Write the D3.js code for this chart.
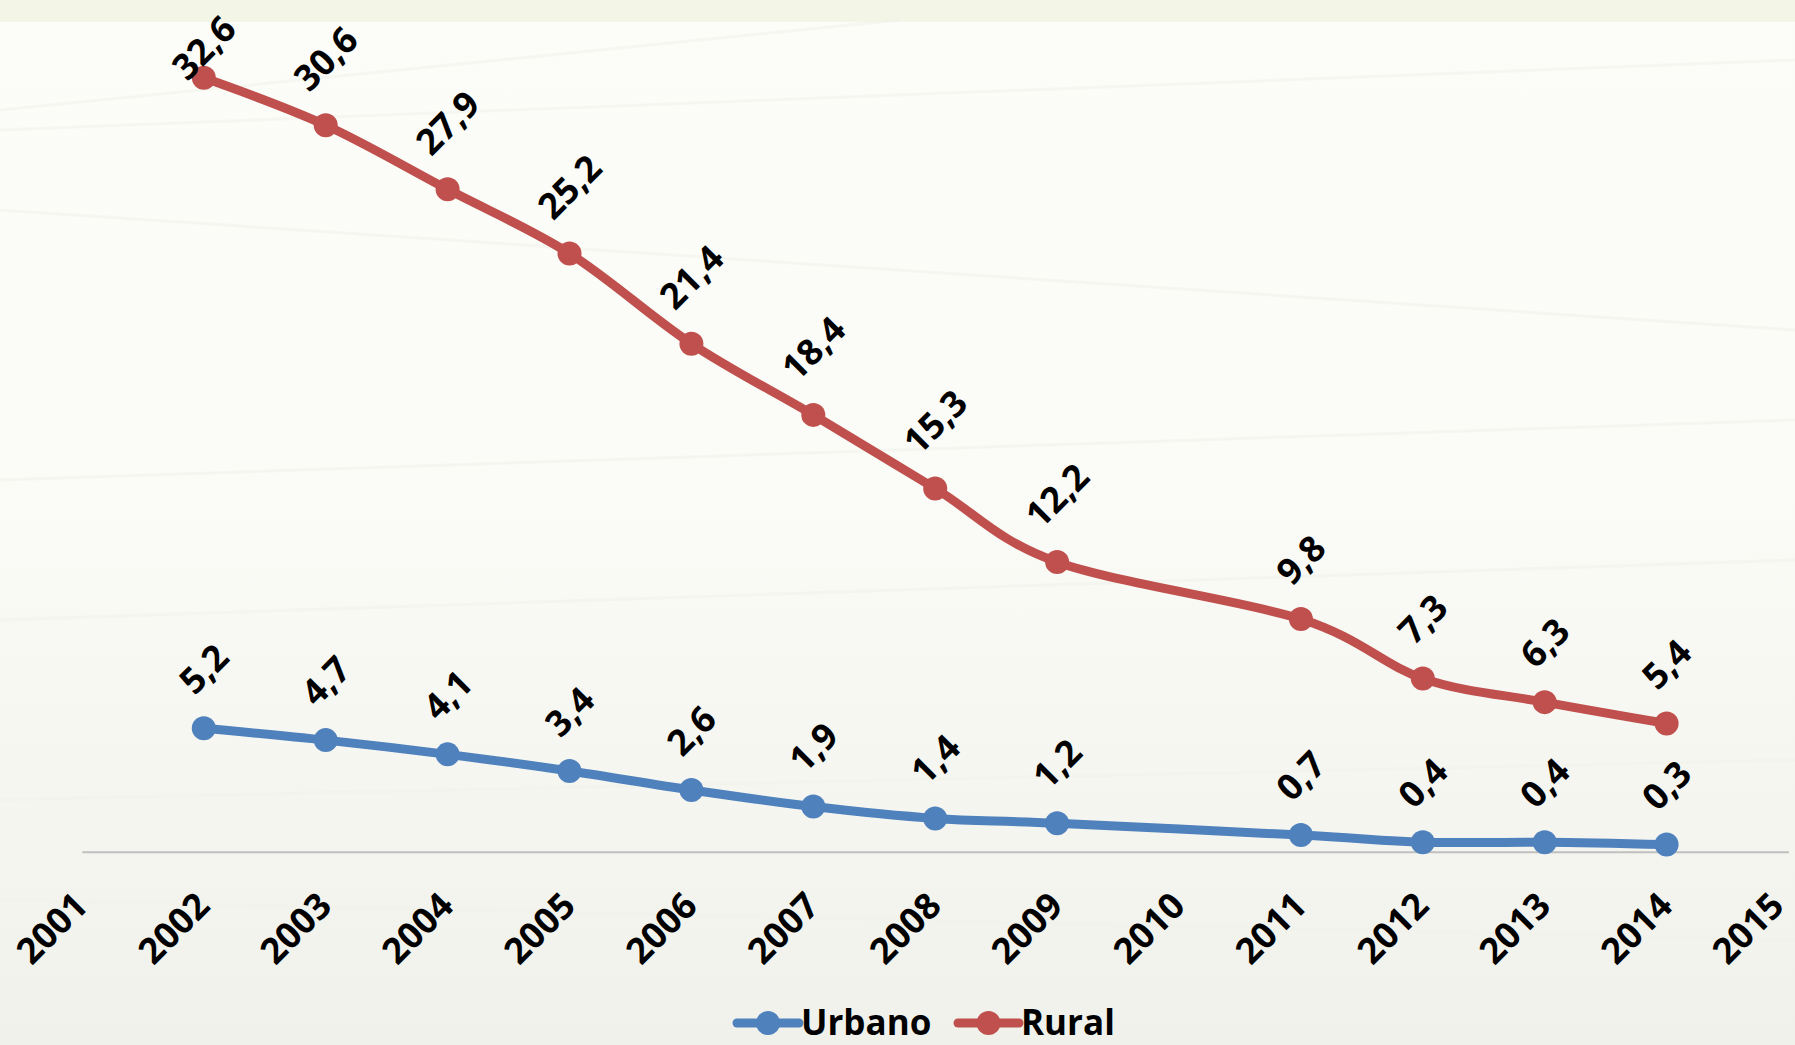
<!DOCTYPE html>
<html>
<head>
<meta charset="utf-8">
<script src="https://cdn.jsdelivr.net/npm/d3@7"></script>
<style>
  html, body { margin: 0; padding: 0; background: #fafaf5; }
  svg { display: block; }
  text { font-family: "Open Sans", "Noto Sans", sans-serif; font-weight: 700; fill: #000; }
</style>
</head>
<body>
<svg id="chart" width="1795" height="1045"></svg>
<script>
// ---- data ----
const axisYears = ["2001","2002","2003","2004","2005","2006","2007","2008","2009","2010","2011","2012","2013","2014","2015"];
const dataYears = ["2002","2003","2004","2005","2006","2007","2008","2009","2011","2012","2013","2014"];
const urbano = [5.2, 4.7, 4.1, 3.4, 2.6, 1.9, 1.4, 1.2, 0.7, 0.4, 0.4, 0.3];
const rural  = [32.6, 30.6, 27.9, 25.2, 21.4, 18.4, 15.3, 12.2, 9.8, 7.3, 6.3, 5.4];
const seriesNames = ["Urbano", "Rural"];
const seriesColors = ["#4F81BD", "#C0504D"];

const W = 1795, H = 1045;
const svg = d3.select("#chart");

// ---- background ----
const defs = svg.append("defs");
const bg = defs.append("linearGradient").attr("id", "bg").attr("x1", 0).attr("y1", 0).attr("x2", 0).attr("y2", 1);
bg.append("stop").attr("offset", "0%").attr("stop-color", "#fcfcf8");
bg.append("stop").attr("offset", "45%").attr("stop-color", "#fbfbf7");
bg.append("stop").attr("offset", "100%").attr("stop-color", "#f1f1ec");
svg.append("rect").attr("width", W).attr("height", H).attr("fill", "url(#bg)");
svg.append("rect").attr("width", W).attr("height", 22).attr("fill", "#f3f5e6");
// faint texture streaks
const streaks = [[0,130,1795,60],[0,210,1795,330],[0,480,1795,420],[0,620,1795,560],[0,800,1795,760],[0,110,900,20],[0,900,1795,940]];
svg.append("g").selectAll("line").data(streaks).join("line")
  .attr("x1", d => d[0]).attr("y1", d => d[1]).attr("x2", d => d[2]).attr("y2", d => d[3])
  .attr("stroke", "#f2f2ea").attr("stroke-width", 3).attr("opacity", 0.45);

// ---- scales ----
const x = d3.scalePoint().domain(axisYears).range([81.9, 1788.5]);
const y = d3.scaleLinear().domain([0, 35]).range([851.7, 20.8]);

// axis line
const xAxis = d3.axisBottom(x).tickSize(0).tickFormat("");
const axG = svg.append("g").attr("transform", `translate(0,${y(0)})`).call(xAxis);
axG.select(".domain").attr("stroke", "#bfbfbf").attr("stroke-width", 2);

// axis labels
svg.append("g").selectAll("text").data(axisYears).join("text")
  .attr("text-anchor", "end")
  .attr("font-size", 36)
  .attr("transform", d => `translate(${Math.min(x(d) + 8, 1786)},908) rotate(-45)`)
  .text(d => d);

// ---- lines ----
const line = d3.line().x(d => x(d.year)).y(d => y(d.v)).curve(d3.curveCatmullRom.alpha(0));
const all = [urbano, rural].map((vals, i) => ({
  name: seriesNames[i], color: seriesColors[i],
  pts: dataYears.map((yr, j) => ({ year: yr, v: vals[j] }))
}));

const g = svg.append("g");
all.forEach(s => {
  g.append("path").datum(s.pts).attr("d", line)
    .attr("fill", "none").attr("stroke", s.color).attr("stroke-width", 9)
    .attr("stroke-linejoin", "round").attr("stroke-linecap", "round");
  g.selectAll(null).data(s.pts).join("circle")
    .attr("cx", d => x(d.year)).attr("cy", d => y(d.v)).attr("r", 12).attr("fill", s.color);
});

// ---- data labels ----
const fmt = v => d3.format(".1f")(v).replace(".", ",");
const fs = 36;
all.forEach(s => {
  s.pts.forEach(p => {
    const t = svg.append("text").attr("font-size", fs).attr("text-anchor", "middle")
      .attr("y", 0.357 * fs).text(fmt(p.v));
    const L = t.node().getComputedTextLength();
    const side = (L + 0.72 * fs) / Math.SQRT2;
    const px = x(p.year), py = y(p.v);
    let cy = py - (32 + side / 2);
    if (cy - side / 2 < 13) cy = 13 + side / 2;
    t.attr("transform", `translate(${px},${cy}) rotate(-45)`);
  });
});

// ---- legend ----
const legend = [
  { name: seriesNames[0], color: seriesColors[0], x0: 737, x1: 799, tx: 801 },
  { name: seriesNames[1], color: seriesColors[1], x0: 958, x1: 1019, tx: 1021 }
];
const lg = svg.append("g");
legend.forEach(l => {
  lg.append("line").attr("x1", l.x0).attr("x2", l.x1).attr("y1", 1023).attr("y2", 1023)
    .attr("stroke", l.color).attr("stroke-width", 9).attr("stroke-linecap", "round");
  lg.append("circle").attr("cx", (l.x0 + l.x1) / 2).attr("cy", 1023).attr("r", 12).attr("fill", l.color);
  lg.append("text").attr("x", l.tx).attr("y", 1035).attr("font-size", 35).text(l.name);
});
</script>
</body>
</html>
